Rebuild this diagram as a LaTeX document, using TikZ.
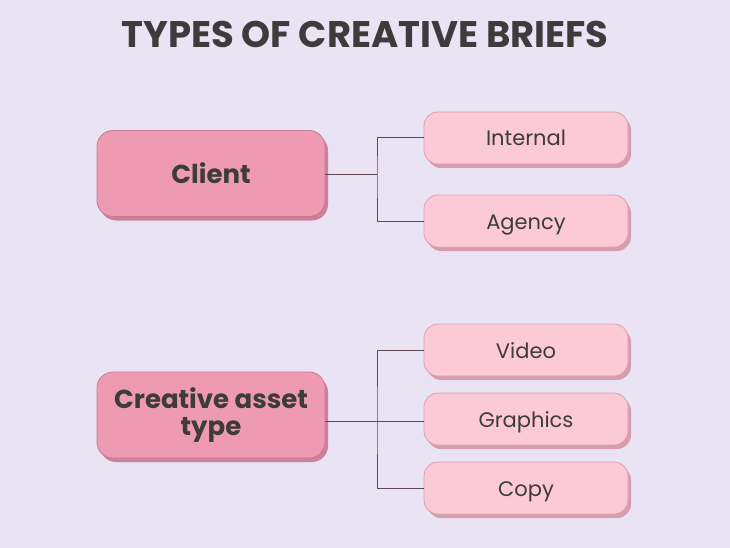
\documentclass[tikz,border=0pt]{standalone}
\usepackage{fontspec}
\setmainfont{Poppins}
\usetikzlibrary{shadows}
\definecolor{bgc}{HTML}{EAE3F4}
\definecolor{mainfill}{HTML}{EE9AB3}
\definecolor{mainedge}{HTML}{C97A93}
\definecolor{mainshadow}{HTML}{C98299}
\definecolor{kidfill}{HTML}{FCCAD6}
\definecolor{kidedge}{HTML}{DCA0AF}
\definecolor{kidshadow}{HTML}{D69EAC}
\definecolor{txt}{HTML}{3D3B3C}
\definecolor{wire}{HTML}{5E4A52}
\tikzset{
  mainbox/.style={draw=mainedge, line width=0.8pt, fill=mainfill, rounded corners=16pt,
    minimum width=228pt, minimum height=86pt, align=center, text=txt,
    font=\fontsize{26}{28}\selectfont\bfseries,
    general shadow={fill=mainshadow, shadow xshift=3pt, shadow yshift=-4pt}},
  kidbox/.style={draw=kidedge, line width=0.8pt, fill=kidfill, rounded corners=14pt,
    minimum width=204pt, minimum height=52pt, align=center, text=txt,
    text height=16pt, text depth=-4pt,
    font=\fontsize{21}{24}\selectfont,
    general shadow={fill=kidshadow, shadow xshift=3pt, shadow yshift=-4pt}},
  wireline/.style={draw=wire, line width=1pt}
}
\begin{document}
\begin{tikzpicture}[x=1pt,y=-1pt]
\useasboundingbox[fill=bgc] (0,0) rectangle (730,548);
\node[text=txt, font=\fontsize{37}{40}\selectfont\bfseries] (title) at (365,34) {TYPES OF CREATIVE BRIEFS};
\node[mainbox] (client) at (211,173.5) {Client};
\node[mainbox] (crea) at (211,415) {Creative asset\\[-1pt]type};
\node[kidbox] (int) at (526,138) {Internal};
\node[kidbox] (age) at (526,221) {Agency};
\node[kidbox] (vid) at (526,350) {Video};
\node[kidbox] (gra) at (526,419) {Graphics};
\node[kidbox] (cop) at (526,488) {Copy};
\coordinate (j1) at (377,175);
\coordinate (j2) at (377,421);
\draw[wireline] (client.east |- j1) -- (j1);
\draw[wireline] (int.west) -| (j1) |- (age.west);
\draw[wireline] (crea.east |- j2) -- (gra.west |- j2);
\draw[wireline] (vid.west) -| (j2) |- (cop.west);
\end{tikzpicture}
\end{document}
